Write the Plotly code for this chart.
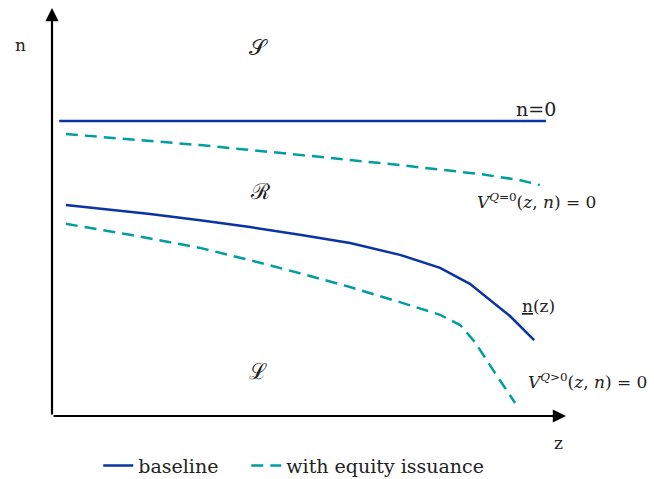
import plotly.graph_objects as go

# region boundaries (axes run 0..100 in both directions)
top_x = [1.4, 96.1]
top_y = [72.3, 72.3]

top_eq_x = [2.7, 28.8, 48.2, 67.7, 83.3, 91.1, 94.9]
top_eq_y = [69.1, 66.4, 64.0, 61.5, 59.3, 57.8, 56.6]

base_x = [2.7, 19.1, 28.8, 38.5, 48.2, 58.0, 67.7, 75.5, 81.3, 85.2, 89.1, 93.8]
base_y = [51.7, 49.5, 48.0, 46.3, 44.4, 42.4, 39.5, 36.3, 32.4, 28.4, 24.5, 18.6]

eq_x = [2.7, 15.2, 28.8, 38.5, 48.2, 58.0, 67.7, 75.5, 79.4, 82.3, 85.8, 90.1]
eq_y = [47.1, 44.4, 41.2, 38.2, 35.0, 31.6, 27.9, 24.8, 22.3, 18.1, 11.3, 3.2]

blue = "#0a33a3"
teal = "#009e9e"
serif = "DejaVu Serif, Liberation Serif, serif"

fig = go.Figure()
fig.add_trace(go.Scatter(x=base_x, y=base_y, mode="lines", name="baseline",
                         legend="legend", line={"color": blue, "width": 2.5}))
fig.add_trace(go.Scatter(x=eq_x, y=eq_y, mode="lines", name="with equity issuance",
                         legend="legend2",
                         line={"color": teal, "width": 2.5, "dash": "12px,7px"}))
fig.add_trace(go.Scatter(x=top_x, y=top_y, mode="lines", showlegend=False,
                         line={"color": blue, "width": 2.5}))
fig.add_trace(go.Scatter(x=top_eq_x, y=top_eq_y, mode="lines", showlegend=False,
                         line={"color": teal, "width": 2.5, "dash": "12px,7px"}))

# labels, placed in paper fractions of the plot area
labels = [
    (0.401, 0.902, "𝒮", 22),
    (0.405, 0.551, "ℛ", 22),
    (0.401, 0.108, "ℒ", 22),
    (0.942, 0.752, "n=0", 19),
    (0.942, 0.527, "<i>V</i><sup><i>Q</i>=0</sup>(<i>z</i>, <i>n</i>) = 0", 17),
    (0.946, 0.270, "<u>n</u>(z)", 17),
    (1.041, 0.086, "<i>V</i><sup><i>Q</i>>0</sup>(<i>z</i>, <i>n</i>) = 0", 17),
    (-0.062, 0.909, "n", 17),
    (0.986, -0.066, "z", 17),
]
for x, y, t, s in labels:
    fig.add_annotation(x=x, y=y, xref="paper", yref="paper", text=t, showarrow=False,
                       xanchor="center", yanchor="middle",
                       font={"family": serif, "size": s, "color": "#222"})

# axis arrows
fig.add_annotation(x=0, y=100, ax=0, ay=0, axref="x", ayref="y", text="",
                   showarrow=True, arrowhead=2, arrowsize=1.2, arrowwidth=2.2, arrowcolor="black")
fig.add_annotation(x=100, y=0, ax=0, ay=0, axref="x", ayref="y", text="",
                   showarrow=True, arrowhead=2, arrowsize=1.2, arrowwidth=2.2, arrowcolor="black")

leg = dict(orientation="h", y=-0.075, xanchor="left", yanchor="top",
           font={"family": serif, "size": 19})
fig.update_layout(
    width=654, height=479,
    margin={"l": 52, "r": 88, "t": 8, "b": 63, "autoexpand": False},
    paper_bgcolor="white", plot_bgcolor="white",
    xaxis={"range": [0, 100], "visible": False},
    yaxis={"range": [0, 100], "visible": False},
    font={"family": serif, "size": 17, "color": "#222"},
    legend=dict(leg, x=0.09),
    legend2=dict(leg, x=0.378),
)
fig.write_html("out.html", config={"displayModeBar": False},
               post_script="document.body.style.margin='0';")
